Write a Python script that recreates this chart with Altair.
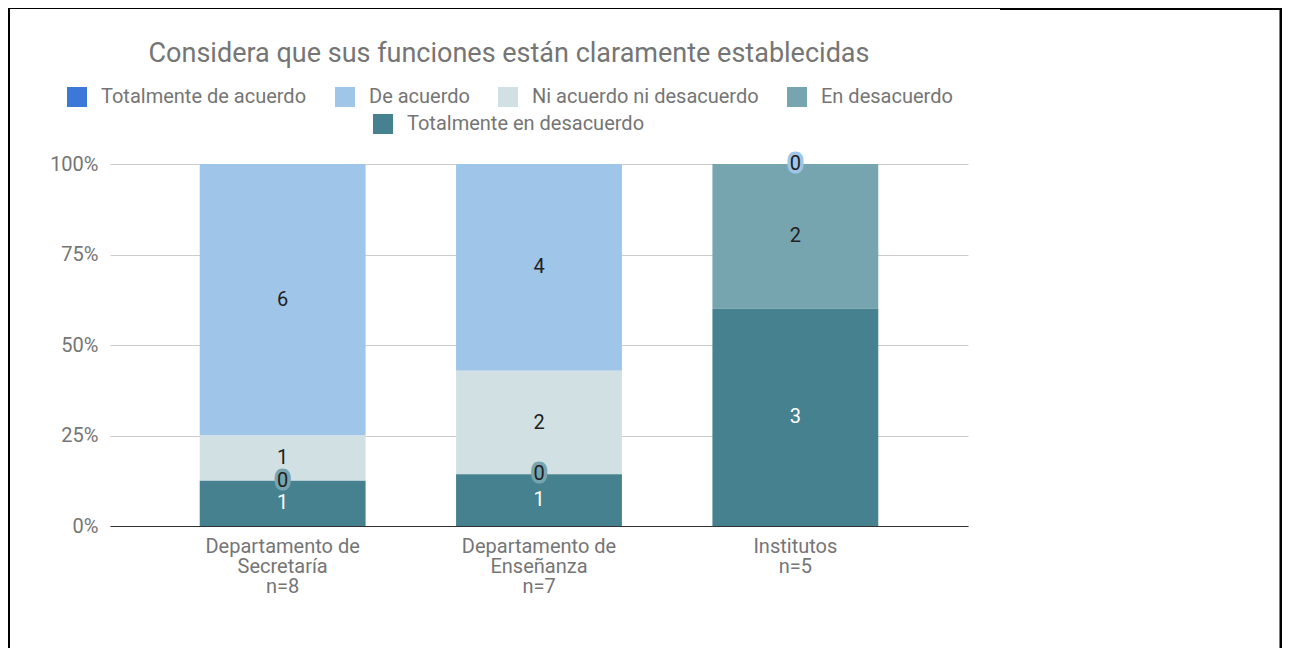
import altair as alt
import pandas as pd

# ---- data ----
categorias = ["Departamento de|Secretaría|n=8", "Departamento de|Enseñanza|n=7", "Institutos|n=5"]
series = ["Totalmente de acuerdo", "De acuerdo", "Ni acuerdo ni desacuerdo",
          "En desacuerdo", "Totalmente en desacuerdo"]
colores = ["#3c78d8", "#9fc5e8", "#d0e0e3", "#76a5af", "#45818e"]
# counts per category (None = no segment)
totalmente_de_acuerdo = [None, None, None]
de_acuerdo = [6, 4, 0]
ni_acuerdo = [1, 2, None]
en_desacuerdo = [0, 0, 2]
totalmente_en_desacuerdo = [1, 1, 3]
# stacking order, bottom to top
orden_apilado = ["Totalmente en desacuerdo", "En desacuerdo", "Ni acuerdo ni desacuerdo",
                 "De acuerdo", "Totalmente de acuerdo"]
y_ticks = [0, 0.25, 0.5, 0.75, 1]
titulo = "Considera que sus funciones están claramente establecidas"

valores = {
    "Totalmente de acuerdo": totalmente_de_acuerdo,
    "De acuerdo": de_acuerdo,
    "Ni acuerdo ni desacuerdo": ni_acuerdo,
    "En desacuerdo": en_desacuerdo,
    "Totalmente en desacuerdo": totalmente_en_desacuerdo,
}
rows = []
for s in series:
    for c, v in zip(categorias, valores[s]):
        if v is not None:
            rows.append({"categoria": c, "serie": s, "valor": v, "orden": orden_apilado.index(s)})
df = pd.DataFrame(rows)

FONT = "Roboto"
GRAY = "#757575"

base = (
    alt.Chart(df)
    .transform_joinaggregate(total="sum(valor)", groupby=["categoria"])
    .transform_window(acum="sum(valor)", sort=[alt.SortField("orden")],
                      groupby=["categoria"], frame=[None, 0])
    .transform_calculate(
        y0="(datum.acum - datum.valor) / datum.total",
        y1="datum.acum / datum.total",
        ymid="(datum.acum - datum.valor / 2) / datum.total",
    )
)

x_enc = alt.X(
    "categoria:N", sort=categorias,
    scale=alt.Scale(paddingInner=0.353, paddingOuter=0.35),
    axis=alt.Axis(title=None, labelAngle=0, labelExpr="split(datum.label, '|')",
                  ticks=False, tickSize=0, domainColor="#333333", domainWidth=1,
                  labelPadding=10, labelLineHeight=20, labelColor=GRAY,
                  labelFontSize=20, labelFont=FONT, grid=False),
)
y_axis = alt.Axis(values=y_ticks, format="%", title=None, domain=False, ticks=False,
                  tickSize=0, labelPadding=12, gridColor="#cccccc", labelColor=GRAY,
                  labelFontSize=20, labelFont=FONT)
y_scale = alt.Scale(domain=[0, 1], nice=False)

legend_common = dict(orient="none", direction="horizontal", title=None,
                     symbolType="square", symbolSize=400, symbolStrokeWidth=0,
                     labelFontSize=20, labelFont=FONT, labelColor=GRAY, labelLimit=0,
                     labelOffset=14, columnPadding=28, padding=0)

bars_a = base.transform_filter(
    alt.FieldOneOfPredicate(field="serie", oneOf=series[:4])
).mark_bar().encode(
    x=x_enc,
    y=alt.Y("y0:Q", scale=y_scale, axis=y_axis),
    y2="y1:Q",
    color=alt.Color("serie:N", scale=alt.Scale(domain=series[:4], range=colores[:4]),
                    legend=alt.Legend(legendX=-43, legendY=-77, **legend_common)),
)

bars_b = base.transform_filter(
    alt.FieldOneOfPredicate(field="serie", oneOf=series[4:])
).mark_bar().encode(
    x=x_enc,
    y=alt.Y("y0:Q", scale=y_scale, axis=y_axis),
    y2="y1:Q",
    color=alt.Color("serie:N", scale=alt.Scale(domain=series[4:], range=colores[4:]),
                    legend=alt.Legend(legendX=263, legendY=-50, **legend_common)),
)

halo = base.transform_filter("datum.valor == 0").mark_text(
    fontSize=20, font=FONT, strokeWidth=7, strokeJoin="round", baseline="middle"
).encode(
    x=x_enc,
    y=alt.Y("ymid:Q", scale=y_scale, axis=y_axis),
    text="valor:Q",
    stroke=alt.Stroke("serie:N", scale=alt.Scale(domain=series, range=colores), legend=None),
    fill=alt.Fill("serie:N", scale=alt.Scale(domain=series, range=colores), legend=None),
)

labels = base.mark_text(fontSize=20, font=FONT, baseline="middle").encode(
    x=x_enc,
    y=alt.Y("ymid:Q", scale=y_scale, axis=y_axis),
    text="valor:Q",
    color=alt.condition(alt.datum.serie == series[4], alt.value("white"), alt.value("#212121")),
)

marco_df = pd.DataFrame({"marco": [1]})
marco_izq = alt.Chart(marco_df).mark_rule(color="black", strokeWidth=2).encode(
    x=alt.value(-101), y=alt.value(-156), y2=alt.value(490))
marco_sup1 = alt.Chart(marco_df).mark_rule(color="black", strokeWidth=1).encode(
    x=alt.value(-102), x2=alt.value(890), y=alt.value(-155.5))
marco_sup2 = alt.Chart(marco_df).mark_rule(color="black", strokeWidth=2).encode(
    x=alt.value(890), x2=alt.value(1172), y=alt.value(-155))
marco_der = alt.Chart(marco_df).mark_rule(color="black", strokeWidth=2.5).encode(
    x=alt.value(1170.75), y=alt.value(-156), y2=alt.value(490))

chart = (
    alt.layer(bars_a, bars_b, halo, labels, marco_izq, marco_sup1, marco_sup2, marco_der)
    .resolve_scale(color="independent")
    .properties(
        width=858, height=362,
        padding={"left": 102, "top": 156, "right": 314, "bottom": 122},
        autosize=alt.AutoSizeParams(type="none"),
        title=alt.TitleParams(titulo, fontSize=27, font=FONT, fontWeight="normal",
                              color=GRAY, anchor="middle", frame="group", dx=-30,
                              baseline="alphabetic", offset=-82),
    )
    .configure(font=FONT)
    .configure_view(stroke=None)
)

chart.save("out.html", embed_options={"renderer": "svg", "actions": False})
